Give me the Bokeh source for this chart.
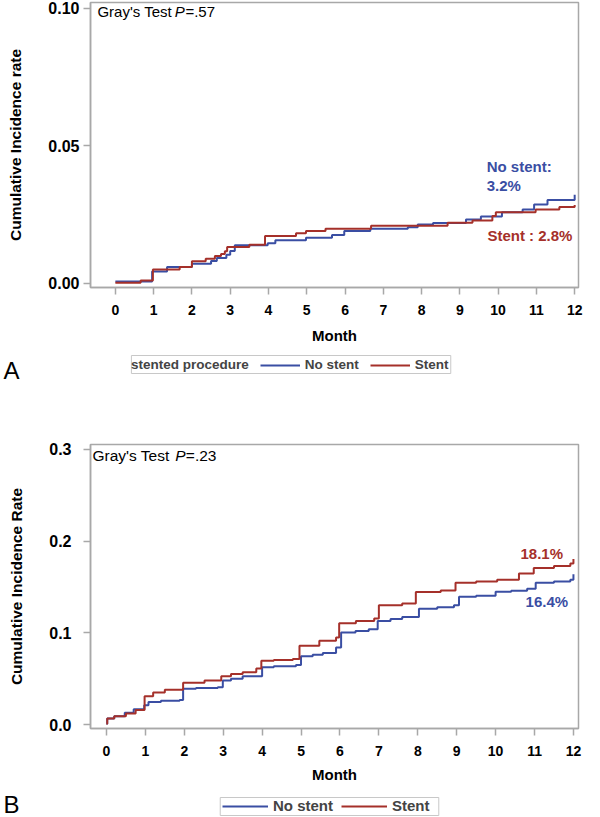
from bokeh.plotting import figure
from bokeh.models import (Range1d, FixedTicker, NumeralTickFormatter, Label, Legend, LegendItem,
                          LinearAxis, BoxAnnotation)
from bokeh.layouts import column
from bokeh.embed import file_html
from bokeh.resources import INLINE

# ---------------- data ----------------
months = list(range(13))
a_yticks = [0.0, 0.05, 0.10]
b_yticks = [0.0, 0.1, 0.2, 0.3]

# Panel A (step functions: value holds from time t onward)
a_nostent_t = [0, 0.96, 1.35, 2.0, 2.5, 2.65, 2.9, 3.0, 3.12, 3.98, 4.18, 4.98, 5.66, 5.98, 6.66,
               7.64, 7.9, 8.3, 9.16, 9.55, 10.1, 10.64, 10.94, 11.29, 12.0]
a_nostent_y = [0.0007, 0.0043, 0.0059, 0.0071, 0.0081, 0.0092, 0.0104, 0.0118, 0.0138, 0.0146, 0.0157,
               0.0166, 0.0176, 0.0190, 0.0198, 0.0204, 0.0214, 0.0219, 0.0232, 0.0243, 0.0258, 0.0268,
               0.0286, 0.0303, 0.0322]
a_stent_t = [0, 0.66, 0.98, 1.68, 2.0, 2.36, 2.6, 2.76, 2.86, 2.92, 3.5, 3.91, 4.72, 4.98, 5.49, 6.68,
             8.68, 9.33, 9.85, 9.94, 10.98, 11.6, 12.0]
a_stent_y = [0.0002, 0.0010, 0.0050, 0.0059, 0.0080, 0.0089, 0.0099, 0.0107, 0.0117, 0.0132, 0.0140,
             0.0172, 0.0182, 0.0190, 0.0198, 0.0209, 0.0220, 0.0228, 0.0245, 0.0258, 0.0268, 0.0277, 0.0285]

# Panel B
b_nostent_t = [0, 0.02, 0.2, 0.47, 0.7, 0.97, 1.08, 1.4, 1.88, 1.97, 2.3, 2.86, 2.99, 3.2, 3.5, 4.0, 4.3,
               4.87, 5.0, 5.3, 5.56, 5.9, 6.03, 6.4, 6.74, 6.97, 7.3, 7.6, 8.03, 8.5, 8.93, 9.06, 9.5,
               10.0, 10.4, 10.81, 11.03, 11.5, 11.92, 12.0]
b_nostent_y = [0.001, 0.0065, 0.009, 0.013, 0.0166, 0.021, 0.0246, 0.026, 0.0267, 0.039, 0.040, 0.0408,
               0.048, 0.050, 0.0527, 0.0625, 0.0635, 0.065, 0.0744, 0.076, 0.078, 0.084, 0.1004, 0.102,
               0.104, 0.113, 0.115, 0.1174, 0.1264, 0.128, 0.130, 0.1394, 0.1405, 0.1448, 0.146, 0.148,
               0.1546, 0.156, 0.158, 0.164]
b_stent_t = [0, 0.02, 0.2, 0.5, 0.75, 0.98, 1.2, 1.5, 1.97, 2.52, 2.95, 3.2, 3.5, 3.85, 3.98, 4.3, 4.79,
             4.96, 5.47, 5.9, 5.98, 6.41, 6.88, 7.0, 7.6, 7.95, 8.59, 8.97, 9.5, 10.04, 10.6, 10.98,
             11.5, 11.92, 12.0]
b_stent_y = [0.001, 0.0065, 0.009, 0.012, 0.016, 0.031, 0.035, 0.038, 0.0455, 0.048, 0.0527, 0.055, 0.057,
             0.061, 0.0697, 0.0705, 0.0715, 0.086, 0.0913, 0.095, 0.1105, 0.113, 0.1156, 0.130, 0.132,
             0.1445, 0.1463, 0.1546, 0.156, 0.158, 0.1647, 0.1708, 0.173, 0.1755, 0.1806]

BLUE = "#3A4EA3"
RED = "#A5302A"
GRAY = "#A8A8A8"
BOXGRAY = "#C8C8C8"
FONT = "Liberation Sans"


def style(p, fmt):
    p.outline_line_color = GRAY
    p.outline_line_width = 1.5
    p.grid.visible = False
    for ax in (p.xaxis[0], p.yaxis[0]):
        ax.axis_line_color = GRAY
        ax.axis_line_width = 1.5
        ax.major_tick_line_color = GRAY
        ax.major_tick_line_width = 1.5
        ax.major_tick_out = 7
        ax.major_tick_in = 0
        ax.minor_tick_line_color = None
        ax.major_label_text_font = FONT
        ax.major_label_text_font_style = "bold"
        ax.major_label_text_color = "black"
        ax.axis_label_text_font = FONT
        ax.axis_label_text_font_style = "bold"
        ax.axis_label_text_color = "black"
    p.xaxis.ticker = FixedTicker(ticks=months)
    p.xaxis.major_label_text_font_size = "14px"
    p.xaxis.major_label_standoff = 10
    p.xaxis.axis_label = "Month"
    p.xaxis.axis_label_text_font_size = "15px"
    p.xaxis.axis_label_standoff = 9
    p.yaxis.formatter = NumeralTickFormatter(format=fmt)
    p.yaxis.major_label_text_font_size = "16px"


def text(p, x, y, s, size, color="black", style_="normal", baseline="top"):
    p.add_layout(Label(x=x, y=y, text=s, text_font=FONT, text_font_size=size, text_color=color,
                       text_font_style=style_, text_baseline=baseline, text_align="left"))


def legend_strip(height, tick, letter):
    """A thin plot holding the panel legend and the panel letter."""
    f = figure(width=600, height=height, output_backend="svg", toolbar_location=None,
               x_axis_type=None, y_axis_type=None,
               x_range=Range1d(0, 489), y_range=Range1d(0, height),
               min_border_left=89, min_border_right=22, min_border_top=0, min_border_bottom=0)
    f.outline_line_color = None
    # series are attached to an off-screen range: only their legend swatches show here
    f.extra_y_ranges = {"hidden": Range1d(10, 11)}
    ax = LinearAxis(ticker=FixedTicker(ticks=[tick]), major_label_overrides={tick: letter},
                    axis_line_color=None, major_tick_line_color=None, minor_tick_line_color=None,
                    major_tick_out=0, major_tick_in=0, major_label_standoff=71,
                    major_label_text_font=FONT, major_label_text_font_size="24px",
                    major_label_text_font_style="normal", major_label_text_color="black")
    f.add_layout(ax, "left")
    return f


def strip_legend(f, items, loc, glyph_w, spacing, size):
    lg = Legend(items=items, orientation="horizontal", location=loc)
    lg.label_text_font = FONT
    lg.label_text_font_style = "bold"
    lg.label_text_font_size = size
    lg.glyph_width = glyph_w
    lg.glyph_height = 14
    lg.label_height = 14
    lg.label_standoff = 5
    lg.spacing = spacing
    lg.padding = 3
    lg.margin = 0
    lg.border_line_color = None
    lg.background_fill_alpha = 0
    f.add_layout(lg, "center")


# ---------------- Panel A ----------------
pA = figure(width=600, height=348, output_backend="svg", toolbar_location=None,
            x_range=Range1d(-0.65, 12.1), y_range=Range1d(-0.0015, 0.102),
            min_border_left=89, min_border_right=22, min_border_top=2, min_border_bottom=61)
style(pA, "0.00")
pA.yaxis.ticker = FixedTicker(ticks=a_yticks)
pA.yaxis.major_label_standoff = 4
pA.yaxis.axis_label = "Cumulative Incidence rate"
pA.yaxis.axis_label_text_font_size = "15.5px"
pA.yaxis.axis_label_standoff = 21

pA.step(a_nostent_t, a_nostent_y, mode="after", line_color=BLUE, line_width=2)
pA.step(a_stent_t, a_stent_y, mode="after", line_color=RED, line_width=2)

text(pA, -0.47, 0.1018, "Gray's Test", "15px")
text(pA, 1.55, 0.1018, "P", "15px", style_="italic")
text(pA, 1.83, 0.1018, "=.57", "15px")
text(pA, 9.7, 0.0424, "No stent:", "15px", BLUE, "bold", "middle")
text(pA, 9.7, 0.0355, "3.2%", "15px", BLUE, "bold", "middle")
text(pA, 9.72, 0.0174, "Stent : 2.8%", "15px", RED, "bold", "middle")

# legend strip A
lA = legend_strip(48, 26, "A")
gA0 = lA.line(x=[], y=[], line_alpha=0)
gA1 = lA.step(a_nostent_t, a_nostent_y, mode="after", line_color=BLUE, line_width=2,
              y_range_name="hidden")
gA2 = lA.step(a_stent_t, a_stent_y, mode="after", line_color=RED, line_width=2,
              y_range_name="hidden")
strip_legend(lA, [LegendItem(label="stented procedure", renderers=[gA0]),
                  LegendItem(label="No stent", renderers=[gA1]),
                  LegendItem(label="Stent", renderers=[gA2])], (-4, 24), 40, 11, "13.5px")
lA.add_layout(BoxAnnotation(left=41, right=361, bottom=23, top=41, fill_alpha=0,
                            line_color=BOXGRAY, line_alpha=1, line_width=1))

# ---------------- Panel B ----------------
pB = figure(width=600, height=389, output_backend="svg", toolbar_location=None,
            x_range=Range1d(-0.41, 12.13), y_range=Range1d(-0.0043, 0.3054),
            min_border_left=89, min_border_right=22, min_border_top=48, min_border_bottom=55)
style(pB, "0.0")
pB.xaxis.axis_label_standoff = 7
pB.yaxis.ticker = FixedTicker(ticks=b_yticks)
pB.yaxis.major_label_standoff = 12
pB.yaxis.axis_label = "Cumulative Incidence Rate"
pB.yaxis.axis_label_text_font_size = "15.5px"
pB.yaxis.axis_label_standoff = 21

pB.step(b_nostent_t, b_nostent_y, mode="after", line_color=BLUE, line_width=2)
pB.step(b_stent_t, b_stent_y, mode="after", line_color=RED, line_width=2)

text(pB, -0.36, 0.3025, "Gray's Test", "15.5px")
text(pB, 1.77, 0.3025, "P", "15.5px", style_="italic")
text(pB, 2.04, 0.3025, "=.23", "15.5px")
text(pB, 10.64, 0.1863, "18.1%", "15px", RED, "bold", "middle")
text(pB, 10.77, 0.1347, "16.4%", "15px", BLUE, "bold", "middle")

# legend strip B
lB = legend_strip(32, 24, "B")
gB1 = lB.step(b_nostent_t, b_nostent_y, mode="after", line_color=BLUE, line_width=2,
              y_range_name="hidden")
gB2 = lB.step(b_stent_t, b_stent_y, mode="after", line_color=RED, line_width=2,
              y_range_name="hidden")
strip_legend(lB, [LegendItem(label="No stent", renderers=[gB1]),
                  LegendItem(label="Stent", renderers=[gB2])], (132, 3), 46, 8, "15px")
lB.add_layout(BoxAnnotation(left=130, right=349, bottom=2, top=20, fill_alpha=0,
                            line_color=BOXGRAY, line_alpha=1, line_width=1))

layout = column(pA, lA, pB, lB, spacing=0)
open("out.html", "w").write(file_html(layout, INLINE))
